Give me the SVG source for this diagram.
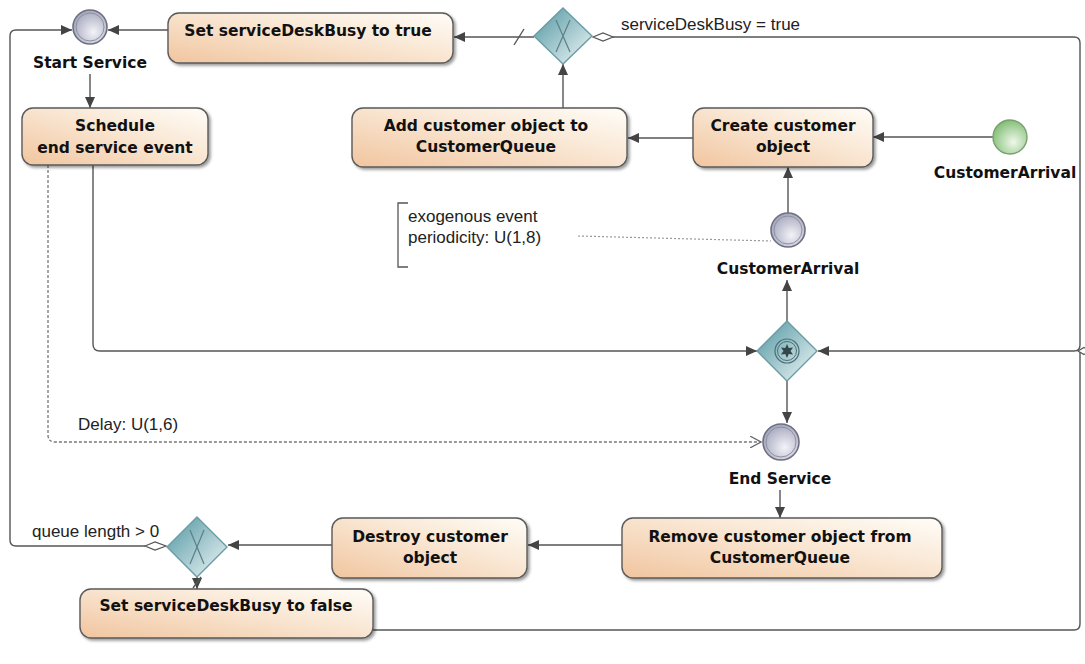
<svg xmlns="http://www.w3.org/2000/svg" width="1085" height="664" viewBox="0 0 1085 664">
  <style>
    .task { stroke: #5a5a5a; stroke-width: 1.4; fill: url(#taskFill); filter: url(#shadow); }
    .lbl { font-family: "DejaVu Sans", "Liberation Sans", sans-serif; font-weight: bold; font-size: 15.5px; fill: #111; text-anchor: middle; }
    .note { font-family: "Liberation Sans", Arial, sans-serif; font-size: 17px; fill: #222; }
    .flow { fill: none; stroke: #555; stroke-width: 1.4; }
    .dashed { fill: none; stroke: #777; stroke-width: 1.3; stroke-dasharray: 3 2; }
    .dotted { fill: none; stroke: #999; stroke-width: 1.2; stroke-dasharray: 2 2; }
    .cond { fill: #fff; stroke: #555; stroke-width: 1.2; }
    .gw { fill: url(#gwFill); stroke: #6b9ca3; stroke-width: 1.4; }
    .gwx { stroke: #5d7f86; stroke-width: 1.2; fill: none; }
    .ev { fill: url(#evFill); stroke: #6e7082; stroke-width: 1.6; }
    .evin { fill: none; stroke: #8d8fa3; stroke-width: 1; }
  </style>
  <defs>
    <linearGradient id="taskFill" x1="0" y1="1" x2="1" y2="0">
      <stop offset="0" stop-color="#f1c59f"/>
      <stop offset="0.55" stop-color="#f9e6d2"/>
      <stop offset="1" stop-color="#fffdf8"/>
    </linearGradient>
    <linearGradient id="gwFill" x1="0" y1="0" x2="1" y2="1">
      <stop offset="0" stop-color="#4f95a0"/>
      <stop offset="1" stop-color="#f2f8f9"/>
    </linearGradient>
    <radialGradient id="evFill" cx="0.6" cy="0.65" r="0.7">
      <stop offset="0" stop-color="#f3f3f8"/>
      <stop offset="1" stop-color="#9fa1b8"/>
    </radialGradient>
    <radialGradient id="startFill" cx="0.6" cy="0.65" r="0.7">
      <stop offset="0" stop-color="#eef8ea"/>
      <stop offset="1" stop-color="#7dbb6f"/>
    </radialGradient>
    <filter id="shadow" x="-10%" y="-20%" width="125%" height="150%">
      <feDropShadow dx="2" dy="2" stdDeviation="1.4" flood-color="#000" flood-opacity="0.4"/>
    </filter>
    <marker id="arrow" markerUnits="userSpaceOnUse" markerWidth="12" markerHeight="10" refX="11" refY="5" orient="auto">
      <path d="M0,0 L11,5 L0,10 Z" fill="#444"/>
    </marker>
    <marker id="openArrow" markerUnits="userSpaceOnUse" markerWidth="12" markerHeight="12" refX="11" refY="6" orient="auto">
      <path d="M0,0 L11,6 L0,12" fill="none" stroke="#666" stroke-width="1.2"/>
    </marker>
  </defs>

  <rect width="1085" height="664" fill="#ffffff"/>

  <!-- sequence flows -->
  <g id="connectors">
    <!-- exclusive gateway (top) default flow to "Set serviceDeskBusy to true" -->
    <path class="flow" d="M534,37 H454" marker-end="url(#arrow)"/>
    <path class="flow" d="M514,45 L524,29"/>
    <!-- conditional flow serviceDeskBusy = true, around the right edge to the event gateway -->
    <path class="flow" d="M612,37 H1074 Q1080,37 1080,43 V345 Q1080,351 1074,351 H818" marker-end="url(#arrow)"/>
    <path class="cond" d="M593,37 L603,33 L613,37 L603,41 Z"/>
    <text class="note" x="621" y="30">serviceDeskBusy = true</text>
    <!-- Set serviceDeskBusy to false joins the right-hand return path -->
    <path class="flow" d="M373,630 H1074 Q1080,630 1080,624 V351"/>
    <path class="cond" d="M1078,351 L1084,347.5 L1090,351 L1084,354.5 Z"/>
    <!-- Set serviceDeskBusy to true -> Start Service -->
    <path class="flow" d="M168,30 H108" marker-end="url(#arrow)"/>
    <!-- Start Service -> Schedule end service event -->
    <path class="flow" d="M90,74 V108" marker-end="url(#arrow)"/>
    <!-- Schedule end service event -> event gateway -->
    <path class="flow" d="M93,165 V344 Q93,351 100,351 H757" marker-end="url(#arrow)"/>
    <!-- scheduling relationship with delay -->
    <path class="dashed" d="M48,165 V435 Q48,442 55,442 H761" marker-end="url(#openArrow)"/>
    <text class="note" x="78" y="430">Delay: U(1,6)</text>
    <!-- Create customer object -> Add customer object to CustomerQueue -->
    <path class="flow" d="M693,138 H628" marker-end="url(#arrow)"/>
    <!-- Add customer object -> exclusive gateway (top) -->
    <path class="flow" d="M563,108 V64" marker-end="url(#arrow)"/>
    <!-- CustomerArrival start event -> Create customer object -->
    <path class="flow" d="M993,137 H873" marker-end="url(#arrow)"/>
    <!-- CustomerArrival intermediate event -> Create customer object -->
    <path class="flow" d="M788,213 V167" marker-end="url(#arrow)"/>
    <!-- event gateway -> CustomerArrival -->
    <path class="flow" d="M787,321 V280" marker-end="url(#arrow)"/>
    <!-- event gateway -> End Service -->
    <path class="flow" d="M787,381 V423" marker-end="url(#arrow)"/>
    <!-- End Service -> Remove customer object -->
    <path class="flow" d="M780,490 V518" marker-end="url(#arrow)"/>
    <!-- Remove -> Destroy -->
    <path class="flow" d="M622,545 H528" marker-end="url(#arrow)"/>
    <!-- Destroy -> exclusive gateway (bottom) -->
    <path class="flow" d="M332,545 H228" marker-end="url(#arrow)"/>
    <!-- conditional flow queue length > 0 back to Start Service -->
    <path class="flow" d="M145,546 H16 Q10,546 10,540 V36 Q10,30 16,30 H72" marker-end="url(#arrow)"/>
    <path class="cond" d="M145,546 L155,542 L166,546 L155,550 Z"/>
    <text class="note" x="32" y="537">queue length &gt; 0</text>
    <!-- default flow to Set serviceDeskBusy to false -->
    <path class="flow" d="M197,577 V589" marker-end="url(#arrow)"/>
    <path class="flow" d="M193,588 L201,577"/>
    <!-- annotation association -->
    <path class="dotted" d="M578,236 L771,241"/>
  </g>

  <!-- tasks -->
  <g id="setBusyTrue">
    <rect class="task" x="168" y="13" width="285" height="50" rx="11"/>
    <text class="lbl" x="308" y="36">Set serviceDeskBusy to true</text>
  </g>
  <g id="scheduleEndService">
    <rect class="task" x="22" y="108" width="186" height="57" rx="11"/>
    <text class="lbl" x="115" y="131">Schedule</text>
    <text class="lbl" x="115" y="153">end service event</text>
  </g>
  <g id="addCustomer">
    <rect class="task" x="352" y="108" width="275" height="59" rx="11"/>
    <text class="lbl" x="486" y="131">Add customer object to</text>
    <text class="lbl" x="486" y="152">CustomerQueue</text>
  </g>
  <g id="createCustomer">
    <rect class="task" x="693" y="108" width="180" height="59" rx="11"/>
    <text class="lbl" x="783" y="131">Create customer</text>
    <text class="lbl" x="783" y="152">object</text>
  </g>
  <g id="removeCustomer">
    <rect class="task" x="622" y="518" width="320" height="60" rx="11"/>
    <text class="lbl" x="780" y="542">Remove customer object from</text>
    <text class="lbl" x="780" y="563">CustomerQueue</text>
  </g>
  <g id="destroyCustomer">
    <rect class="task" x="332" y="518" width="195" height="60" rx="11"/>
    <text class="lbl" x="430" y="542">Destroy customer</text>
    <text class="lbl" x="430" y="563">object</text>
  </g>
  <g id="setBusyFalse">
    <rect class="task" x="80" y="589" width="293" height="49" rx="11"/>
    <text class="lbl" x="226" y="611">Set serviceDeskBusy to false</text>
  </g>

  <!-- events -->
  <g id="startService">
    <circle class="ev" cx="90" cy="27" r="17"/>
    <circle class="evin" cx="90" cy="27" r="14"/>
    <text class="lbl" x="90" y="68">Start Service</text>
  </g>
  <g id="customerArrivalStart">
    <circle cx="1010" cy="137" r="17" fill="url(#startFill)" stroke="#7c9f72" stroke-width="1.4"/>
    <text class="lbl" x="1005" y="178">CustomerArrival</text>
  </g>
  <g id="customerArrival">
    <circle class="ev" cx="788" cy="230" r="17"/>
    <circle class="evin" cx="788" cy="230" r="14"/>
    <text class="lbl" x="788" y="274">CustomerArrival</text>
  </g>
  <g id="endService">
    <circle class="ev" cx="781" cy="442" r="18"/>
    <circle class="evin" cx="781" cy="442" r="15"/>
    <text class="lbl" x="780" y="484">End Service</text>
  </g>

  <!-- gateways -->
  <g id="gatewayBusy">
    <path class="gw" d="M563,8 L592,36 L563,64 L534,36 Z"/>
    <path class="gwx" d="M556,20 L570,52 M570,20 L556,52"/>
  </g>
  <g id="eventGateway">
    <path class="gw" d="M787,321 L817,351 L787,381 L757,351 Z"/>
    <circle cx="787" cy="351" r="12" fill="none" stroke="#4c6f75" stroke-width="1.2"/>
    <circle cx="787" cy="351" r="9.5" fill="none" stroke="#4c6f75" stroke-width="1"/>
    <path transform="translate(787,351)" fill="#33464a" d="M0,-7 L1.75,-3.03 L6.06,-3.5 L3.5,0 L6.06,3.5 L1.75,3.03 L0,7 L-1.75,3.03 L-6.06,3.5 L-3.5,0 L-6.06,-3.5 L-1.75,-3.03 Z"/>
  </g>
  <g id="gatewayQueue">
    <path class="gw" d="M197,517 L227,547 L197,577 L167,547 Z"/>
    <path class="gwx" d="M190,530 L204,564 M204,530 L190,564"/>
  </g>

  <!-- annotation -->
  <g id="annotation">
    <path d="M408,203 H398 V267 H408" fill="none" stroke="#555" stroke-width="1.3"/>
    <text class="note" x="408" y="222">exogenous event</text>
    <text class="note" x="408" y="243">periodicity: U(1,8)</text>
  </g>
</svg>
